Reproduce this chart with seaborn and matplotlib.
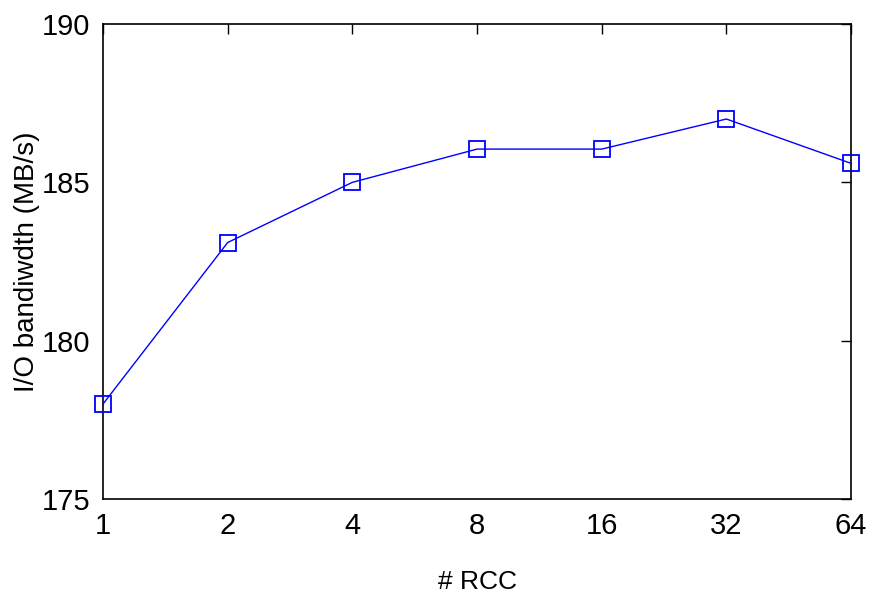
import seaborn as sns
import matplotlib.pyplot as plt
import pandas as pd

# data
rcc = [1, 2, 4, 8, 16, 32, 64]
bandwidth = [178.0, 183.1, 185.0, 186.05, 186.05, 187.0, 185.6]
yticks = [175, 180, 185, 190]

sns.set_style("white")
plt.rcParams['font.family'] = ['Liberation Sans', 'DejaVu Sans']

df = pd.DataFrame({"rcc": rcc, "bw": bandwidth})

fig = plt.figure(figsize=(8.76, 5.93), dpi=100)
ax = fig.add_axes([0.1176, 0.1585, 0.8539, 0.801])

sns.lineplot(data=df, x="rcc", y="bw", ax=ax, color="#0000ff", linewidth=1.0,
             marker="s", markersize=11, markerfacecolor="none",
             markeredgecolor="#0000ff", markeredgewidth=1.3)
for ln in ax.lines:
    ln.set_clip_on(False)
    ln.set_zorder(5)

ax.set_xscale("log", base=2)
ax.set_xlim(1, 64)
ax.set_ylim(175, 190)
ax.set_xticks(rcc)
ax.set_xticklabels([str(v) for v in rcc])
ax.set_yticks(yticks)
ax.minorticks_off()

ax.tick_params(direction="in", length=7, width=1, top=True, right=True,
               labelsize=21, pad=9, colors="black")
for sp in ax.spines.values():
    sp.set_color("black")
    sp.set_linewidth(1.2)

ax.set_xlabel("# RCC", fontsize=19, color="black")
ax.set_ylabel("I/O bandiwdth (MB/s)", fontsize=20, color="black")
ax.xaxis.set_label_coords(0.5, -0.15)
ax.yaxis.set_label_coords(-0.084, 0.5)

fig.savefig("out.png", dpi=100)
